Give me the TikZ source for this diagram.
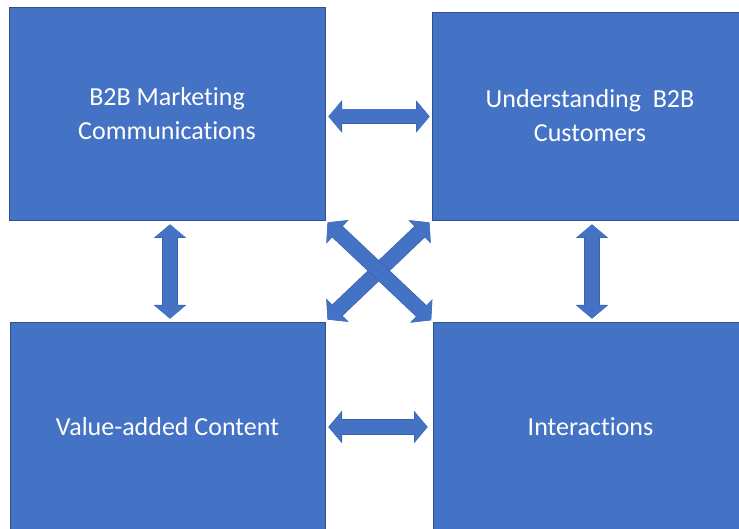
\documentclass[tikz,border=0pt]{standalone}
\usepackage{fontspec}
\setmainfont[Ligatures=NoCommon]{Carlito}
\usetikzlibrary{arrows.meta}
\definecolor{boxblue}{HTML}{4472C4}
\definecolor{edgeblue}{HTML}{2F528F}
\definecolor{arrowedge}{HTML}{3861AC}
\tikzset{
  box/.style={draw=edgeblue, line width=0.8pt, fill=boxblue, text=white,
    inner sep=0pt, align=center, font=\fontsize{26}{34}\selectfont},
  barrow/.style={draw=boxblue, line width=14pt,
    {Triangle[length=13pt,width=30pt]}-{Triangle[length=13pt,width=30pt]},
    preaction={draw=arrowedge, line width=15.4pt,
      {Triangle[length=13.6pt,width=31.6pt]}-{Triangle[length=13.6pt,width=31.6pt]}}},
}
\begin{document}
\begin{tikzpicture}[x=1pt,y=-1pt]
\useasboundingbox (0,0) rectangle (739,529);
\clip (0,0) rectangle (739,529);
\fill[white] (0,0) rectangle (739,529);
\node[box, minimum width=316pt, minimum height=213pt] (tl) at (167,113.5) {B2B Marketing\\Communications};
\node[box, minimum width=316pt, minimum height=208pt] (tr) at (590,116) {Understanding~ B2B\\Customers};
\node[box, minimum width=315pt, minimum height=210pt] (bl) at (167.5,427) {Value-added Content};
\node[box, minimum width=315pt, minimum height=210pt] (br) at (590.5,427) {Interactions};
\draw[barrow, shorten <=3pt, shorten >=2pt] ([yshift=-3pt]tl.east) -- ([yshift=-3pt]tl.east -| tr.west);
\draw[barrow, shorten <=3pt, shorten >=5pt] (bl.east) -- (br.west);
\draw[barrow, shorten <=4pt, shorten >=3pt] ([xshift=3pt]tl.south) -- ([xshift=3pt]tl.south |- bl.north);
\draw[barrow, shorten <=4pt, shorten >=3pt] ([xshift=2pt]tr.south) -- ([xshift=2pt]tr.south |- br.north);
\draw[barrow, shorten <=3pt, shorten >=3pt] (tr.south west) -- (bl.north east);
\draw[barrow, shorten <=3pt, shorten >=2pt] (tl.south east) -- (br.north west);
\end{tikzpicture}
\end{document}
